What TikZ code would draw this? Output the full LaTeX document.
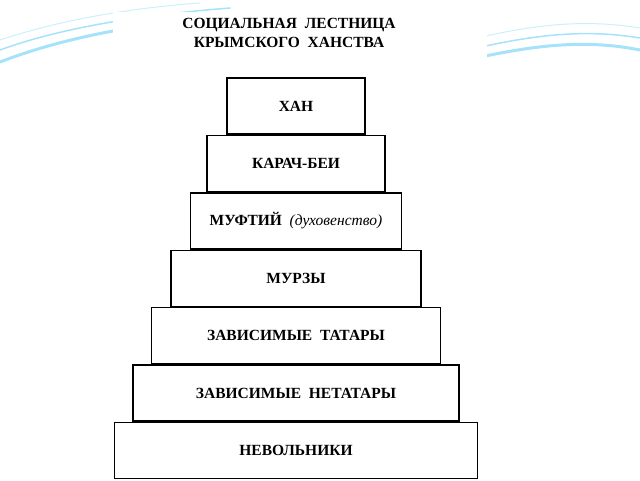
\documentclass[tikz,border=0pt]{standalone}
\usepackage{fontspec}
\setmainfont{Liberation Serif}
\usetikzlibrary{positioning}
\tikzset{
  level/.style={draw, line width=1.4pt, minimum height=56pt, inner sep=0pt,
    font=\bfseries\fontsize{15.5}{18}\selectfont},
  swoosh/.style={line width=#1, draw=cyan!35, line cap=round}
}
\begin{document}
\begin{tikzpicture}[x=1pt, y=-1pt, node distance=0pt]
\useasboundingbox (0,0) rectangle (640,480);
% slide background
\draw[swoosh=3pt] (0,62) .. controls (70,35) and (150,22) .. (250,14);
\draw[swoosh=1.5pt] (0,50) .. controls (60,28) and (140,15) .. (230,8);
\draw[swoosh=1pt, draw=cyan!20] (0,40) .. controls (60,20) and (130,8) .. (200,3);
\draw[swoosh=3pt] (640,50) .. controls (580,38) and (520,45) .. (420,72);
\draw[swoosh=1.5pt] (640,38) .. controls (580,28) and (520,35) .. (430,60);
\draw[swoosh=1pt, draw=cyan!20] (640,28) .. controls (580,18) and (520,25) .. (440,48);
% white sheet
\fill[white] (113,12) rectangle (487,480);
% title
\node[font=\bfseries\fontsize{15.5}{19}\selectfont, align=center] (title) at (289,33)
  {СОЦИАЛЬНАЯ\ \ ЛЕСТНИЦА\\КРЫМСКОГО\ \ ХАНСТВА};
% levels
\node[level, minimum width=138pt] (khan) at (296,106) {ХАН};
\node[level, minimum width=178pt] (karach) [below=of khan] {КАРАЧ-БЕИ};
\node[level, minimum width=211pt] (mufti) [below=of karach] {МУФТИЙ\ \ {\mdseries\itshape(духовенство)}};
\node[level, minimum width=250pt] (murzy) [below=of mufti] {МУРЗЫ};
\node[level, minimum width=289pt] (tatary) [below=of murzy] {ЗАВИСИМЫЕ\ \ ТАТАРЫ};
\node[level, minimum width=326pt] (netatary) [below=of tatary] {ЗАВИСИМЫЕ\ \ НЕТАТАРЫ};
\node[level, minimum width=363pt] (nevol) [below=of netatary] {НЕВОЛЬНИКИ};
\end{tikzpicture}
\end{document}
